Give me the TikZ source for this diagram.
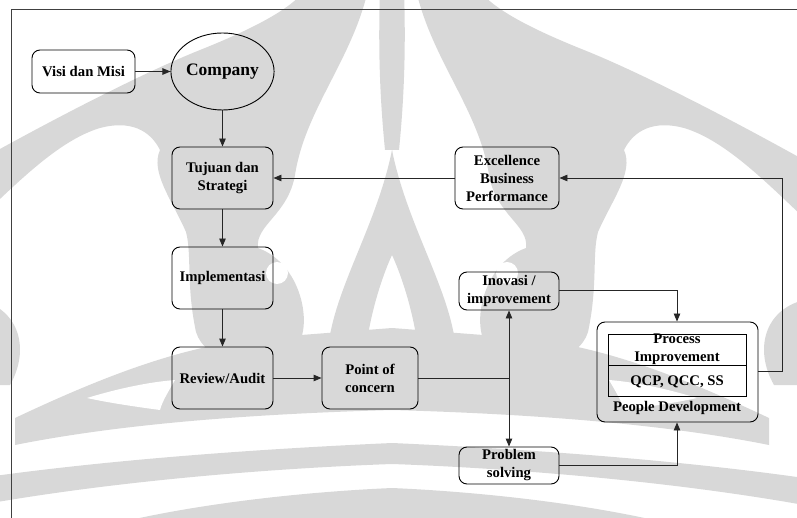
\documentclass[tikz,border=0pt]{standalone}
\usepackage{fontspec}
\setmainfont{Liberation Serif}
\usetikzlibrary{arrows.meta,shapes.geometric,positioning}

\definecolor{wmgray}{RGB}{216,216,216}

\tikzset{
  box/.style={draw=black, line width=0.9pt, rounded corners=8pt, align=center,
    font=\fontsize{14.7}{18}\selectfont\bfseries, inner sep=0pt},
  link/.style={draw=black!85, line width=0.9pt},
  arr/.style={link, -{Triangle[length=8pt,width=6.5pt]}},
  biarr/.style={link, {Triangle[length=8pt,width=6.5pt]}-{Triangle[length=8pt,width=6.5pt]}},
  frameline/.style={draw=black!75, line width=0.9pt},
  wm/.style={fill=wmgray, draw=none},
}

% one half of the background emblem; the other half is its mirror image
\newcommand{\emblemhalf}{%
  % horn sweeping from the side edge into the pillar
  \path[wm] (-20,160) .. controls (70,110) and (150,70) .. (200,50)
            .. controls (250,30) and (290,10) .. (305,-10)
            -- (368,-10) .. controls (352,60) and (305,110) .. (295,175)
            .. controls (288,215) and (255,225) .. (258,248)
            .. controls (305,265) and (315,335) .. (292,352)
            .. controls (255,372) and (205,362) .. (196,332)
            .. controls (186,285) and (192,255) .. (186,232)
            .. controls (172,200) and (150,172) .. (160,150)
            .. controls (150,130) and (130,120) .. (100,128)
            .. controls (60,140) and (20,180) .. (-20,218) -- cycle;
  % central peak
  \path[wm] (392,150) .. controls (378,220) and (340,280) .. (330,335)
            -- (368,335) .. controls (374,300) and (385,270) .. (392,255) -- cycle;
  \path[wm] (380,-10) -- (392,-10) -- (392,150) -- (385,150) .. controls (380,100) and (378,50) .. (380,-10) -- cycle;
  % lower wing
  \path[wm] (15,418) .. controls (100,378) and (180,346) .. (262,338)
            -- (392,328) -- (392,410) .. controls (250,414) and (120,424) .. (15,445) -- cycle;
  % band below the wing
  \path[wm] (-20,478) .. controls (120,458) and (280,448) .. (392,443)
            -- (392,464) .. controls (280,468) and (120,480) .. (-20,505) -- cycle;
  % bottom piece
  \path[wm] (90,530) .. controls (180,505) and (300,492) .. (392,488) -- (392,530) -- cycle;
  % edge curl
  \path[wm] (-20,300) .. controls (20,310) and (30,350) .. (10,385) -- (-20,385) -- cycle;
}

\begin{document}
\begin{tikzpicture}[x=1pt,y=-1pt]
\useasboundingbox (0,0) rectangle (797,518);

% background emblem
\begin{scope}
  \clip (0,0) rectangle (797,518);
  \emblemhalf
  \begin{scope}[xshift=784pt, xscale=-1]
    \emblemhalf
  \end{scope}
  \fill[white] (277,273) circle (11pt);
  \fill[white] (507,273) circle (11pt);
  \fill[white] (87,398) .. controls (120,388) and (150,382) .. (175,380) .. controls (168,392) and (162,402) .. (160,410) .. controls (130,406) and (105,402) .. (87,398) -- cycle;
  \fill[white] (697,398) .. controls (664,388) and (634,382) .. (609,380) .. controls (616,392) and (622,402) .. (624,410) .. controls (654,406) and (679,402) .. (697,398) -- cycle;
\end{scope}

% outer frame (top and left edges)
\draw[frameline] (11,518) -- (11,9) -- (797,9);

% nodes
\node[box, minimum width=103pt, minimum height=43pt] (visi) at (83.5,71.5) {Visi dan Misi};
\node[draw=black, line width=0.9pt, ellipse, minimum width=101pt, minimum height=77pt,
      inner sep=0pt, font=\fontsize{17.5}{20}\selectfont\bfseries] (company) at (222.5,71.5) {Company};
\node[box, minimum width=101pt, minimum height=62pt] (tujuan) at (222.5,178) {Tujuan dan\\Strategi};
\node[box, minimum width=101pt, minimum height=62pt] (impl) at (222.5,278) {Implementasi};
\node[box, minimum width=101pt, minimum height=62pt] (review) at (222.5,378) {Review/Audit};
\node[box, minimum width=96pt, minimum height=62pt] (point) at (370,378) {Point of\\concern};
\node[box, minimum width=104pt, minimum height=62pt] (excel) at (507,178) {Excellence\\Business\\Performance};
\node[box, minimum width=100pt, minimum height=38pt] (inov) at (509,291) {Inovasi /\\improvement};
\node[box, minimum width=100pt, minimum height=37pt] (prob) at (509,465.5) {Problem\\solving};

% people development group
\node[box, minimum width=161pt, minimum height=100pt] (people) at (677.5,372) {};
\node[draw=black, line width=0.9pt, minimum width=138pt, minimum height=31pt, inner sep=0pt,
      align=center, font=\fontsize{14.7}{18}\selectfont\bfseries] (procimp) at (677,349.5) {Process\\Improvement};
\node[draw=black, line width=0.9pt, minimum width=138pt, minimum height=31pt, inner sep=0pt,
      font=\fontsize{14.7}{18}\selectfont\bfseries, anchor=north] (qcp) at (procimp.south) {QCP, QCC, SS};
\node[font=\fontsize{14.7}{18}\selectfont\bfseries, inner sep=0pt] (pdlabel) at (677,408) {People Development};

% connectors
\coordinate (pc) at (509,378);
\coordinate (inr) at (677,290);
\coordinate (prr) at (677,465.5);
\coordinate (rtop) at (782,178);
\coordinate (rbot) at (782,371);

\draw[arr] (visi) -- (company);
\draw[arr] (company) -- (tujuan);
\draw[arr] (tujuan) -- (impl);
\draw[arr] (impl) -- (review);
\draw[arr] (review) -- (point);
\draw[arr] (excel) -- (tujuan);
\draw[link] (point.east |- pc) -- (pc);
\draw[biarr] (inov) -- (prob);
\draw[arr] (inov.east |- inr) -- (inr) -- (people.north -| inr);
\draw[arr] (prob.east |- prr) -- (prr) -- (people.south -| prr);
\draw[arr] (people.east |- rbot) -- (rbot) -- (rtop) -- (excel.east);
\end{tikzpicture}
\end{document}
